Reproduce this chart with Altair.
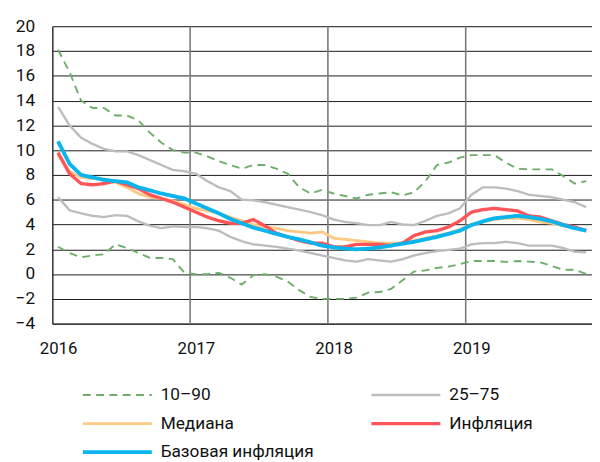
import altair as alt
import pandas as pd

# Monthly, Jan 2016 .. Nov 2019 (47 months), % y/y
year_labels = ["2016", "2017", "2018", "2019"]

p10 = [2.2, 1.7, 1.35, 1.5, 1.6, 2.4, 2.1, 1.7, 1.3, 1.3, 1.2, 0.1,
       0.0, 0.0, 0.1, -0.3, -0.85, -0.1, 0.0, -0.2, -0.6, -1.3, -1.85, -2.0,
       -2.0, -2.0, -1.9, -1.5, -1.45, -1.2, -0.5, 0.2, 0.3, 0.5, 0.6, 0.8,
       1.05, 1.05, 1.05, 0.98, 1.05, 1.0, 0.95, 0.65, 0.35, 0.35, 0.0]
p90 = [18.1, 16.3, 14.0, 13.4, 13.4, 12.8, 12.8, 12.4, 11.4, 10.6, 10.0, 9.8,
       9.8, 9.5, 9.1, 8.8, 8.5, 8.8, 8.8, 8.5, 8.1, 7.0, 6.5, 6.8,
       6.5, 6.3, 6.1, 6.4, 6.5, 6.6, 6.35, 6.6, 7.5, 8.8, 9.0, 9.4,
       9.6, 9.6, 9.6, 9.0, 8.5, 8.45, 8.45, 8.45, 7.9, 7.3, 7.5]
p25 = [6.2, 5.15, 4.9, 4.7, 4.6, 4.75, 4.7, 4.25, 3.9, 3.7, 3.85, 3.8,
       3.8, 3.7, 3.5, 3.0, 2.65, 2.4, 2.3, 2.2, 2.05, 1.9, 1.7, 1.5,
       1.3, 1.1, 1.0, 1.2, 1.1, 1.0, 1.2, 1.5, 1.7, 1.85, 1.95, 2.05,
       2.4, 2.5, 2.5, 2.6, 2.5, 2.3, 2.3, 2.3, 2.1, 1.8, 1.75]
p75 = [13.5, 12.0, 11.0, 10.5, 10.1, 9.9, 9.9, 9.6, 9.2, 8.8, 8.4, 8.3,
       8.1, 7.5, 7.0, 6.7, 6.0, 5.95, 5.8, 5.6, 5.4, 5.2, 5.0, 4.75,
       4.4, 4.2, 4.1, 3.95, 3.95, 4.2, 4.0, 3.95, 4.3, 4.7, 4.9, 5.3,
       6.4, 7.0, 7.0, 6.9, 6.7, 6.4, 6.3, 6.2, 6.0, 5.8, 5.4]
median = [9.6, 8.3, 7.8, 7.7, 7.7, 7.4, 7.0, 6.5, 6.2, 6.1, 5.9, 5.6,
          5.3, 5.1, 4.9, 4.6, 4.3, 4.0, 3.8, 3.7, 3.5, 3.4, 3.3, 3.4,
          2.9, 2.8, 2.7, 2.6, 2.5, 2.5, 2.5, 2.7, 2.9, 3.1, 3.3, 3.6,
          4.0, 4.2, 4.4, 4.5, 4.5, 4.4, 4.2, 4.1, 3.9, 3.7, 3.5]
inflation = [9.8, 8.1, 7.3, 7.2, 7.3, 7.5, 7.2, 6.9, 6.4, 6.1, 5.8, 5.4,
             5.0, 4.6, 4.3, 4.1, 4.1, 4.4, 3.9, 3.3, 3.0, 2.7, 2.5, 2.5,
             2.2, 2.2, 2.4, 2.4, 2.4, 2.3, 2.5, 3.1, 3.4, 3.5, 3.8, 4.3,
             5.0, 5.2, 5.3, 5.2, 5.1, 4.7, 4.6, 4.3, 4.0, 3.8, 3.5]
core = [10.7, 8.9, 8.0, 7.8, 7.6, 7.5, 7.4, 7.0, 6.75, 6.5, 6.3, 6.1,
        5.7, 5.3, 4.9, 4.45, 4.1, 3.75, 3.5, 3.25, 3.0, 2.8, 2.55, 2.3,
        2.15, 2.05, 2.0, 2.05, 2.15, 2.3, 2.45, 2.6, 2.8, 3.0, 3.25, 3.5,
        3.95, 4.25, 4.5, 4.6, 4.7, 4.6, 4.45, 4.25, 3.95, 3.7, 3.5]

series_names = ["10–90", "25–75", "Медиана", "Инфляция", "Базовая инфляция"]
series_colors = ["#6DAE68", "#BDBDBD", "#FFC983", "#FF5458", "#0AB4EC"]
width_range = [1.9, 3.9]
series_dashes = [[8, 5.5], [1, 0], [1, 0], [1, 0], [1, 0]]

lines = [
    ("10–90", "p10", p10), ("10–90", "p90", p90),
    ("25–75", "p25", p25), ("25–75", "p75", p75),
    ("Медиана", "med", median), ("Инфляция", "inf", inflation),
    ("Базовая инфляция", "core", core),
]
rows = []
for order, (name, lid, vals) in enumerate(lines):
    for m, v in enumerate(vals):
        rows.append({"m": m, "v": v, "series": name, "line": lid, "ord": order})
df = pd.DataFrame(rows)

year_bounds = pd.DataFrame({"b": [11.5, 23.5, 35.5]})

xscale = alt.Scale(domain=[-0.5, 46.5], nice=False, zero=False)
yscale = alt.Scale(domain=[-4, 20], nice=False, zero=False)

FONT = "Roboto"

xaxis = alt.Axis(values=[0, 12, 24, 36],
                 labelExpr="'' + (2016 + datum.value / 12)",
                 title=None, grid=False, ticks=False,
                 domain=True, domainColor="#222", domainWidth=1,
                 labelFont=FONT, labelFontSize=17, labelColor="#111",
                 labelPadding=17, labelFlush=False)

vrules = alt.Chart(year_bounds).mark_rule(color="#7a7a7a", strokeWidth=1.6).encode(
    x=alt.X("b:Q", scale=xscale, axis=xaxis, title=None)
)

legend = alt.Legend(orient="none", legendX=29, legendY=366, direction="horizontal",
                    columns=2, columnPadding=56,
                    rowPadding=11, clipHeight=17,
                    symbolType="stroke", symbolSize=4900,
                    labelOffset=7, labelFont=FONT,
                    labelFontSize=17.5, labelColor="#111",
                    labelLimit=300, title=None, padding=0)

linechart = alt.Chart(df).mark_line(strokeCap="butt", strokeJoin="round").encode(
    x=alt.X("m:Q", scale=xscale, axis=xaxis, title=None),
    y=alt.Y("v:Q", scale=yscale,
            axis=alt.Axis(values=list(range(-4, 21, 2)), title=None,
                          grid=True, gridColor="#1a1a1a", gridWidth=1,
                          ticks=False, domain=True, domainColor="#333",
                          domainWidth=1.5,
                          labelFont=FONT, labelFontSize=17.5, labelColor="#111",
                          labelPadding=18)),
    color=alt.Color("series:O", sort=series_names,
                    scale=alt.Scale(domain=series_names, range=series_colors),
                    legend=legend),
    strokeDash=alt.StrokeDash("series:O", sort=series_names,
                              scale=alt.Scale(domain=series_names, range=series_dashes),
                              legend=legend),
    strokeWidth=alt.StrokeWidth("series:O", sort=series_names,
                                scale=alt.Scale(type="point", domain=series_names,
                                                range=width_range, padding=0),
                                legend=legend),
    detail="line:N",
    order=alt.Order("ord:Q"),
)

chart = alt.layer(vrules, linechart).properties(
    width=548, height=302,
    autosize=alt.AutoSizeParams(type="none"),
    padding={"left": 45, "top": 15, "right": 0, "bottom": 137},
).configure_view(stroke=None).configure(background="white")

chart.save("out.html", embed_options={"renderer": "svg", "actions": False})
